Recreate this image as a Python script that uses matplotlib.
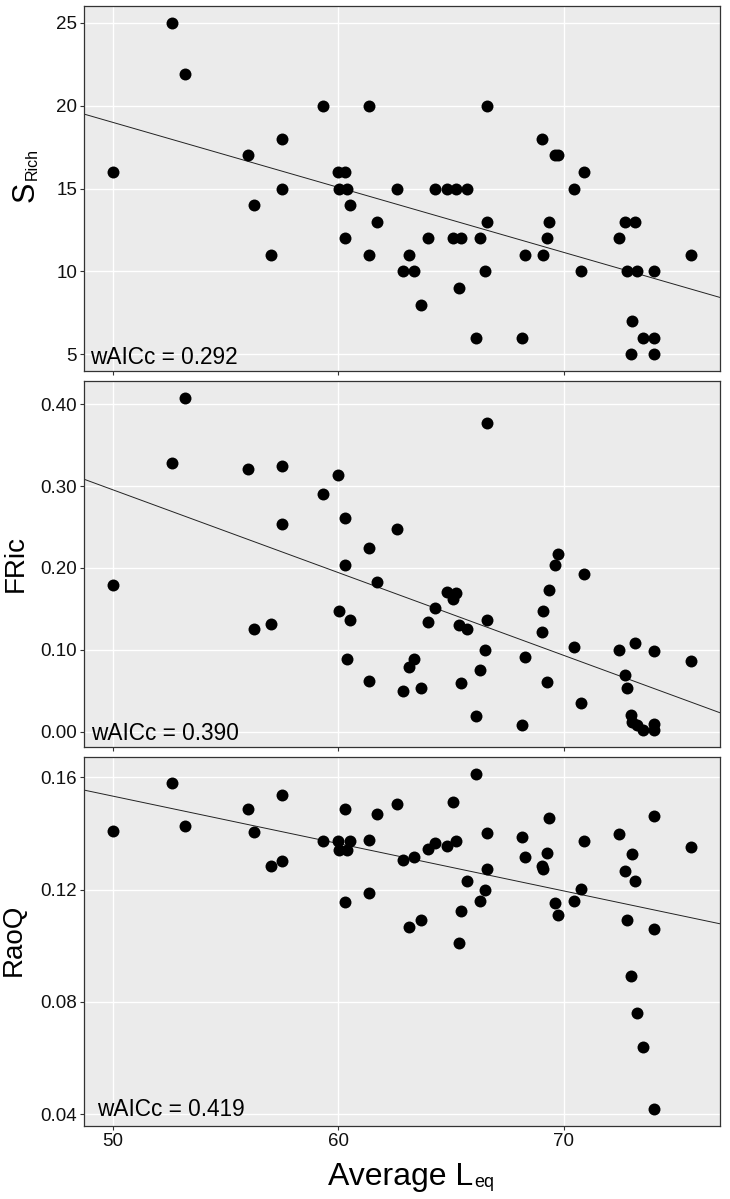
import numpy as np
import matplotlib
matplotlib.use("Agg")
import matplotlib.pyplot as plt

plt.rcParams['font.family'] = ['Liberation Sans', 'DejaVu Sans']

# Average Leq per site (shared by the three panels)
leq = [50.0, 52.6, 53.2, 56.0, 56.25, 57.0, 57.5, 57.5, 59.3, 60.0,
       60.05, 60.3, 60.3, 60.4, 60.5, 61.35, 61.35, 61.7, 62.6, 62.85,
       63.15, 63.35, 63.65, 64.0, 64.3, 64.8, 65.1, 65.2, 65.35, 65.45,
       65.7, 66.1, 66.3, 66.5, 66.6, 66.6, 68.13, 68.3, 69.05, 69.1,
       69.24, 69.36, 69.63, 69.75, 70.45, 70.76, 70.92, 72.47, 72.73, 72.8,
       73.0, 73.05, 73.14, 73.23, 73.5, 74.0, 74.0, 74.0, 75.65]

s_rich = [16, 25, 21.9, 17, 14, 11, 18, 15, 20, 16,
          15, 16, 12, 15, 14, 20, 11, 13, 15, 10,
          11, 10, 8, 12, 15, 15, 12, 15, 9, 12,
          15, 6, 12, 10, 20, 13, 6, 11, 18, 11,
          12, 13, 17, 17, 15, 10, 16, 12, 13, 10,
          5, 7, 13, 10, 6, 10, 6, 5, 11]

fric = [0.179, 0.328, 0.408, 0.321, 0.125, 0.132, 0.325, 0.254, 0.290, 0.314,
        0.148, 0.261, 0.204, 0.089, 0.137, 0.224, 0.062, 0.183, 0.247, 0.050,
        0.0795, 0.089, 0.053, 0.134, 0.151, 0.170, 0.162, 0.169, 0.1305, 0.060,
        0.126, 0.0196, 0.075, 0.100, 0.377, 0.137, 0.0077, 0.091, 0.122, 0.148,
        0.061, 0.1725, 0.204, 0.217, 0.104, 0.0355, 0.192, 0.100, 0.069, 0.053,
        0.020, 0.0118, 0.1085, 0.0082, 0.0016, 0.0983, 0.0098, 0.0024, 0.086]

raoq = [0.1408, 0.158, 0.1427, 0.1487, 0.1403, 0.1284, 0.130, 0.1538, 0.1371, 0.1371,
        0.1342, 0.1487, 0.1157, 0.1342, 0.1371, 0.1377, 0.1188, 0.147, 0.1505, 0.1305,
        0.1065, 0.1315, 0.109, 0.1343, 0.1367, 0.1356, 0.1512, 0.1372, 0.1008, 0.1125,
        0.1229, 0.1612, 0.116, 0.1198, 0.1402, 0.1273, 0.1387, 0.1315, 0.1285, 0.1274,
        0.1330, 0.1456, 0.1152, 0.1108, 0.116, 0.1203, 0.1372, 0.1398, 0.1265, 0.109,
        0.0893, 0.1327, 0.1229, 0.0761, 0.0639, 0.146, 0.0418, 0.1061, 0.1350]

w_aicc = ["0.292", "0.390", "0.419"]
y_ticks = [[5, 10, 15, 20, 25], [0.0, 0.1, 0.2, 0.3, 0.4], [0.04, 0.08, 0.12, 0.16]]
y_fmt = ["{:.0f}", "{:.2f}", "{:.2f}"]
x_ticks = [50, 60, 70]


def expand(v, mult=0.05):
    lo, hi = min(v), max(v)
    pad = (hi - lo) * mult
    return lo - pad, hi + pad


W, H = 730, 1199
fig = plt.figure(figsize=(W / 100, H / 100), dpi=100)

# panel rectangles in pixels: (top, bottom)
rows = [(6, 371), (381, 747), (757, 1126)]
left_px, right_px = 84, 720
note_pos = [(0.0094, 0.018), (0.0105, 0.018), (0.0199, 0.028)]
series = [s_rich, fric, raoq]

axes = []
for i, (top, bot) in enumerate(rows):
    ax = fig.add_axes([left_px / W, 1 - bot / H, (right_px - left_px) / W, (bot - top) / H])
    ax.set_facecolor('#EBEBEB')
    y = series[i]
    # linear fit drawn across the full panel
    slope, icpt = np.polyfit(leq, y, 1)
    ax.axline((0, icpt), slope=slope, color='#222222', lw=0.7, zorder=2)
    ax.plot(leq, y, 'o', color='black', ms=8.6, mew=0, zorder=3)
    ax.set_xlim(*expand(leq))
    ax.set_ylim(*expand(y))
    ax.set_xticks(x_ticks)
    ax.set_yticks(y_ticks[i])
    ax.set_yticklabels([y_fmt[i].format(t) for t in y_ticks[i]])
    ax.grid(True, color='white', lw=1.0)
    ax.set_axisbelow(True)
    for sp in ax.spines.values():
        sp.set_color('#333333')
        sp.set_linewidth(0.9)
    ax.tick_params(length=3, width=0.8, color='#333333', labelsize=13.5,
                   labelcolor='#111111', pad=2)
    if i < 2:
        ax.tick_params(axis='x', labelbottom=False)
    nx, ny = note_pos[i]
    ax.text(nx, ny, "wAICc = " + w_aicc[i], transform=ax.transAxes,
            ha='left', va='baseline', fontsize=16.3, color='black')
    axes.append(ax)

# y axis titles
fig.text(33.5 / W, 1 - 202 / H, "S", rotation=90, rotation_mode='anchor',
         ha='left', va='baseline', fontsize=22)
fig.text(37 / W, 1 - 180 / H, "Rich", rotation=90, rotation_mode='anchor',
         ha='left', va='baseline', fontsize=11.5)
fig.text(23 / W, 1 - 564 / H, "FRic", rotation=90, rotation_mode='anchor',
         ha='center', va='baseline', fontsize=20)
fig.text(21 / W, 1 - 940 / H, "RaoQ", rotation=90, rotation_mode='anchor',
         ha='center', va='baseline', fontsize=20)

# x axis title with subscript
t_main = fig.text(328 / W, 1 - 1185 / H, "Average L", ha='left', va='baseline', fontsize=23)
fig.canvas.draw()
bb = t_main.get_window_extent()
fig.text((bb.x1 + 1) / W, 1 - 1187 / H, "eq", ha='left', va='baseline', fontsize=13)

fig.savefig("out.png", dpi=100)
